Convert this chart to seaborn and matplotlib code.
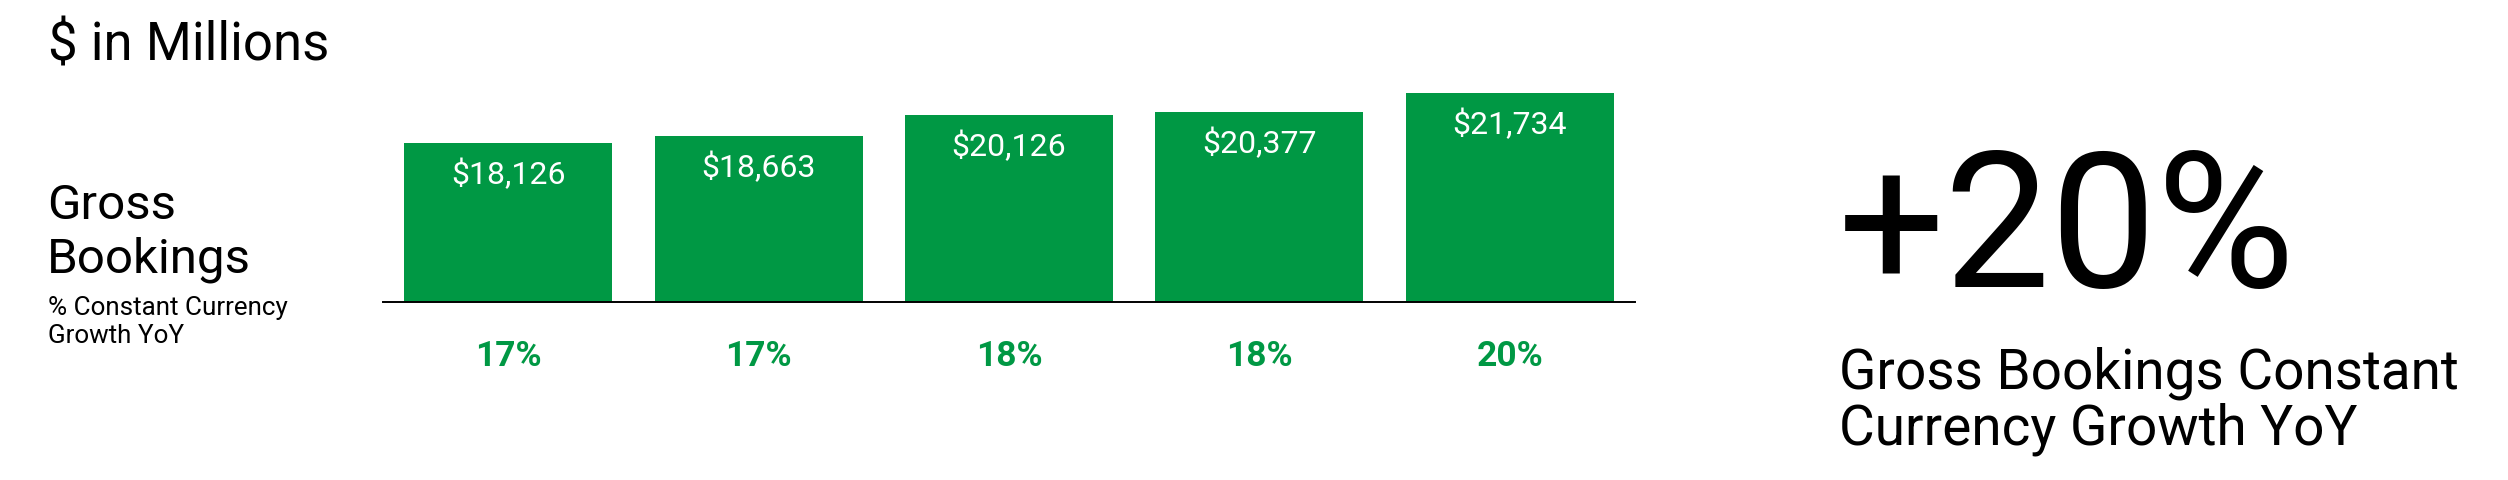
import matplotlib
matplotlib.use("Agg")
import matplotlib.pyplot as plt
import seaborn as sns
import pandas as pd

# ---- data ----
periods = ["P1", "P2", "P3", "P4", "P5"]
gross_bookings = [18126, 18663, 20126, 20377, 21734]
value_labels = ["$18,126", "$18,663", "$20,126", "$20,377", "$21,734"]
growth_labels = ["17%", "17%", "18%", "18%", "20%"]
headline = "+20%"
headline_caption = ["Gross Bookings Constant", "Currency Growth YoY"]
title = "$ in Millions"
row_title = ["Gross", "Bookings"]
row_subtitle = ["% Constant Currency", "Growth YoY"]

GREEN = "#009844"

sns.set_theme(style="white")
plt.rcParams["font.family"] = ["Roboto", "DejaVu Sans"]

W, H = 2508, 481
fig = plt.figure(figsize=(W / 100, H / 100), dpi=100)

# axes placement (pixel based)
ax_left, ax_right = 383, 1635
ax_bottom_px, ax_top_px = 302.7, 60
ax = fig.add_axes([ax_left / W, 1 - ax_bottom_px / H,
                   (ax_right - ax_left) / W, (ax_bottom_px - ax_top_px) / H])

df = pd.DataFrame({"period": periods, "value": gross_bookings})
sns.barplot(data=df, x="period", y="value", color=GREEN, saturation=1,
            width=0.83, linewidth=0, ax=ax)

ax.set_xlim(-0.5, 4.5)
ax.set_ylim(6741, 24151)
ax.set_xlabel("")
ax.set_ylabel("")
ax.set_xticks([])
ax.set_yticks([])
for s in ["top", "right", "left"]:
    ax.spines[s].set_visible(False)
ax.spines["bottom"].set_color("black")
ax.spines["bottom"].set_linewidth(1.4)

for i, (v, lab) in enumerate(zip(gross_bookings, value_labels)):
    ax.annotate(lab, xy=(i, v), xytext=(0, -22), textcoords="offset points",
                ha="center", va="center", color="white", fontsize=23)

for i, g in enumerate(growth_labels):
    ax.text(i, -0.22, g, transform=ax.get_xaxis_transform(), ha="center",
            va="center", color=GREEN, fontsize=25.5, fontweight="bold")

def ftext(x, y, s, size, **kw):
    fig.text(x / W, 1 - y / H, s, fontsize=size, va="baseline", ha="left",
             color="black", **kw)

ftext(48, 60, title, 38)
ftext(47, 219, row_title[0], 35.5)
ftext(47, 273, row_title[1], 35.5)
ftext(48, 315, row_subtitle[0], 18.7)
ftext(48, 343, row_subtitle[1], 18.7)

ftext(1838, 287, headline, 136)
ftext(1839, 388, headline_caption[0], 39.5)
ftext(1839, 445, headline_caption[1], 39.5)

fig.savefig("out.png", dpi=100, facecolor="white")
